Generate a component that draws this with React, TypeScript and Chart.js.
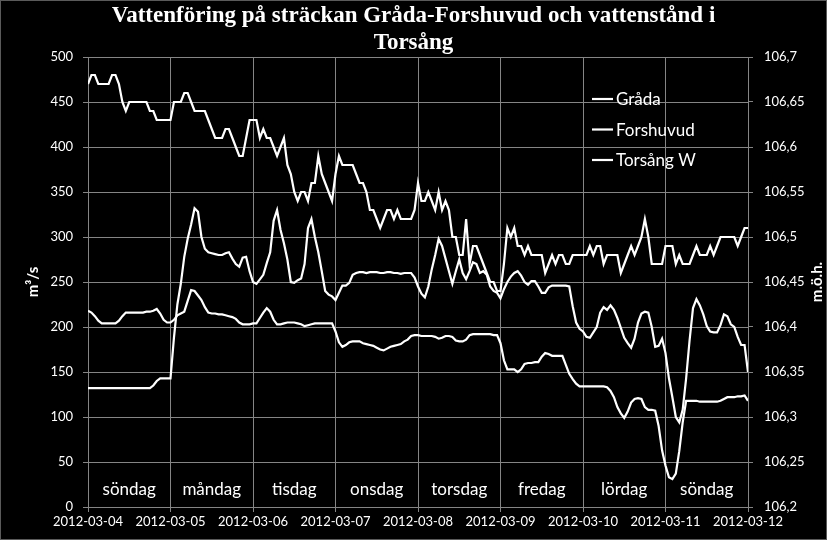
import { useEffect, useRef } from "react";
import { Chart, registerables } from "chart.js";

Chart.register(...registerables);

// ---------- data ----------
const TITLE = ["Vattenföring på sträckan Gråda-Forshuvud och vattenstånd i", "Torsång"];
const DATES = ["2012-03-04", "2012-03-05", "2012-03-06", "2012-03-07", "2012-03-08", "2012-03-09", "2012-03-10", "2012-03-11", "2012-03-12"];
const DAYS = ["söndag", "måndag", "tisdag", "onsdag", "torsdag", "fredag", "lördag", "söndag"];
const SERIES_NAMES = ["Gråda", "Forshuvud", "Torsång W"];
const LEFT_TITLE = "m³/s";
const RIGHT_TITLE = "m.ö.h.";
const HOURS_PER_DAY = 24;

// hourly flow, m3/s (2012-03-04 00:00 .. 2012-03-12 00:00)
const GRADA = [
  470, 480, 480, 470, 470, 470, 470, 480, 480, 470, 450, 440, 450, 450, 450, 450, 450, 450, 440, 440, 430, 430, 430, 430,
  430, 450, 450, 450, 460, 460, 450, 440, 440, 440, 440, 430, 420, 410, 410, 410, 420, 420, 410, 400, 390, 390, 410, 430,
  430, 430, 410, 420, 410, 410, 400, 390, 400, 410, 380, 370, 350, 340, 350, 350, 340, 360, 360, 390, 370, 360, 350, 340,
  370, 390, 380, 380, 380, 380, 370, 360, 360, 350, 330, 330, 320, 310, 320, 330, 330, 320, 330, 320, 320, 320, 320, 330,
  360, 340, 340, 350, 340, 330, 350, 330, 340, 330, 300, 300, 280, 280, 320, 270, 290, 290, 280, 270, 260, 250, 250, 240,
  240, 270, 310, 300, 310, 290, 290, 280, 290, 280, 280, 280, 280, 260, 270, 280, 270, 280, 280, 270, 270, 280, 280, 280,
  280, 280, 290, 280, 290, 290, 270, 280, 280, 280, 280, 260, 270, 280, 290, 280, 290, 300, 320, 300, 270, 270, 270, 270,
  290, 290, 290, 270, 280, 270, 270, 270, 280, 290, 280, 280, 280, 290, 280, 290, 300, 300, 300, 300, 300, 290, 300, 310,
  310,
];

const FORSHUVUD = [
  132, 132, 132, 132, 132, 132, 132, 132, 132, 132, 132, 132, 132, 132, 132, 132, 132, 132, 132, 135, 140, 143, 143, 143,
  143, 188, 225, 248, 278, 298, 314, 332, 328, 300, 287, 283, 282, 281, 280, 280, 282, 283, 276, 270, 267, 277, 278, 262,
  250, 248, 253, 258, 271, 283, 318, 330, 308, 293, 275, 250, 249, 252, 254, 270, 310, 320, 300, 283, 262, 240, 236, 234,
  230, 238, 246, 246, 249, 258, 260, 261, 261, 260, 261, 261, 261, 260, 260, 261, 261, 260, 260, 259, 260, 260, 260, 255,
  245, 237, 233, 245, 264, 280, 298, 290, 276, 262, 248, 262, 275, 260, 253, 262, 272, 270, 260, 262, 258, 245, 240, 238,
  232, 242, 250, 256, 260, 262, 257, 250, 247, 251, 251, 245, 238, 238, 244, 246, 246, 246, 246, 246, 245, 223, 205, 198,
  195, 189, 188, 194, 200, 216, 222, 219, 224, 219, 210, 199, 188, 182, 177, 187, 205, 215, 217, 216, 200, 178, 179, 187,
  171, 143, 122, 100, 94, 108, 143, 185, 221, 231, 224, 214, 201, 195, 194, 194, 202, 214, 212, 203, 200, 189, 180, 180,
  150,
];

// hourly water level, m.ö.h.
const TORSANG_W = [
  106.418, 106.416, 106.412, 106.407, 106.404, 106.404, 106.404, 106.404, 106.404, 106.407, 106.412, 106.416, 106.416, 106.416, 106.416, 106.416, 106.416, 106.417, 106.417, 106.418, 106.420, 106.415, 106.408, 106.405,
  106.405, 106.408, 106.413, 106.415, 106.417, 106.429, 106.441, 106.440, 106.435, 106.430, 106.422, 106.416, 106.415, 106.415, 106.414, 106.414, 106.413, 106.412, 106.411, 106.409, 106.405, 106.403, 106.403, 106.403,
  106.404, 106.404, 106.410, 106.416, 106.421, 106.417, 106.408, 106.403, 106.403, 106.404, 106.405, 106.405, 106.405, 106.404, 106.403, 106.401, 106.402, 106.403, 106.404, 106.404, 106.404, 106.404, 106.404, 106.404,
  106.395, 106.383, 106.378, 106.380, 106.383, 106.384, 106.384, 106.384, 106.382, 106.381, 106.380, 106.379, 106.377, 106.375, 106.374, 106.376, 106.378, 106.379, 106.380, 106.381, 106.384, 106.386, 106.390, 106.391,
  106.391, 106.390, 106.390, 106.390, 106.390, 106.389, 106.387, 106.388, 106.390, 106.390, 106.389, 106.385, 106.384, 106.384, 106.386, 106.391, 106.392, 106.392, 106.392, 106.392, 106.392, 106.392, 106.391, 106.391,
  106.382, 106.363, 106.353, 106.353, 106.353, 106.350, 106.353, 106.359, 106.360, 106.360, 106.361, 106.361, 106.367, 106.371, 106.370, 106.368, 106.368, 106.368, 106.368, 106.358, 106.348, 106.342, 106.337, 106.334,
  106.334, 106.334, 106.334, 106.334, 106.334, 106.334, 106.334, 106.333, 106.329, 106.322, 106.311, 106.304, 106.299, 106.306, 106.316, 106.320, 106.321, 106.320, 106.311, 106.308, 106.308, 106.307, 106.290, 106.263,
  106.246, 106.233, 106.231, 106.237, 106.262, 106.294, 106.318, 106.318, 106.318, 106.318, 106.317, 106.317, 106.317, 106.317, 106.317, 106.317, 106.318, 106.320, 106.322, 106.322, 106.322, 106.323, 106.323, 106.324,
  106.318,
];

// ---------- styles ----------
const GRID = "#858585";
const WHITE = "#ffffff";
const SANS = "Lato, 'Open Sans', sans-serif";
const SERIF = "'Liberation Serif', 'DejaVu Serif', serif";

const toPoints = (arr: number[]) => arr.map((y, i) => ({ x: i, y }));

const fmtComma = (v: number) => String(Number(v.toFixed(2))).replace(".", ",");

const decorPlugin = {
  id: "decor",
  beforeDraw(chart: any) {
    const { ctx, width, height } = chart;
    ctx.save();
    ctx.fillStyle = "#000";
    ctx.fillRect(0, 0, width, height);
    ctx.restore();
  },
  afterDraw(chart: any) {
    const { ctx, chartArea, scales } = chart;
    const xs = scales.x;
    ctx.save();
    // day names inside the plot
    ctx.fillStyle = WHITE;
    ctx.font = `17px ${SANS}`;
    ctx.textAlign = "center";
    ctx.textBaseline = "middle";
    DAYS.forEach((d, i) => {
      ctx.fillText(d, xs.getPixelForValue(i * HOURS_PER_DAY + HOURS_PER_DAY / 2), 490);
    });
    // legend
    ctx.textAlign = "left";
    chart.data.datasets.forEach((ds: any, i: number) => {
      const y = 99 + i * 30.5;
      ctx.strokeStyle = WHITE;
      ctx.lineWidth = 2.2;
      ctx.beginPath();
      ctx.moveTo(592, y);
      ctx.lineTo(613, y);
      ctx.stroke();
      ctx.fillText(ds.label, 616, y + 1);
    });
    // right axis title (reads bottom to top)
    ctx.font = `bold 15px ${SANS}`;
    ctx.textAlign = "center";
    ctx.translate(817, (chartArea.top + chartArea.bottom) / 2);
    ctx.rotate(-Math.PI / 2);
    ctx.fillText(RIGHT_TITLE, 0, 0);
    ctx.restore();
    // outer frame
    ctx.save();
    ctx.strokeStyle = "#5a5a5a";
    ctx.lineWidth = 1;
    ctx.strokeRect(0.5, 0.5, chart.width - 1, chart.height - 1);
    ctx.restore();
  },
};

export default function App() {
  const ref = useRef<HTMLCanvasElement | null>(null);

  useEffect(() => {
    if (!ref.current) return;
    const chart = new Chart(ref.current, {
      type: "line",
      data: {
        datasets: [
          { label: SERIES_NAMES[0], data: toPoints(GRADA), yAxisID: "y" },
          { label: SERIES_NAMES[1], data: toPoints(FORSHUVUD), yAxisID: "y" },
          { label: SERIES_NAMES[2], data: toPoints(TORSANG_W), yAxisID: "y1" },
        ].map((d) => ({
          ...d,
          borderColor: WHITE,
          backgroundColor: WHITE,
          borderWidth: 2.2,
          pointRadius: 0,
          tension: 0,
          fill: false,
        })),
      },
      options: {
        animation: false,
        responsive: false,
        devicePixelRatio: 1,
        layout: { padding: { left: 0, right: 0, top: 0, bottom: 0 } },
        plugins: {
          legend: { display: false },
          tooltip: { enabled: false },
          title: {
            display: true,
            text: TITLE,
            color: WHITE,
            font: { family: SERIF, size: 23, weight: "bold", lineHeight: 27 / 23 },
            padding: { top: 3, bottom: 0 },
          },
        },
        scales: {
          x: {
            type: "linear",
            position: "bottom",
            min: 0,
            max: (DATES.length - 1) * HOURS_PER_DAY,
            afterFit: (s: any) => {
              s.height = 33;
            },
            ticks: {
              stepSize: HOURS_PER_DAY,
              autoSkip: false,
              maxRotation: 0,
              color: WHITE,
              padding: 2,
              font: { family: SANS, size: 13 },
              callback: (v: any) => DATES[Math.round(v / HOURS_PER_DAY)] ?? "",
            },
            grid: { color: GRID, tickLength: 5, drawTicks: true },
            border: { color: GRID },
          },
          y: {
            position: "left",
            min: 0,
            max: 500,
            afterFit: (s: any) => {
              s.width = 88;
            },
            ticks: {
              stepSize: 50,
              color: WHITE,
              padding: 10,
              font: { family: SANS, size: 13 },
            },
            grid: { color: GRID, tickLength: 5 },
            border: { color: GRID },
            title: {
              display: true,
              text: LEFT_TITLE,
              color: WHITE,
              font: { family: SANS, size: 15, weight: "bold" },
              padding: { top: 24, bottom: 0 },
            },
          },
          y1: {
            position: "right",
            min: 106.2,
            max: 106.7,
            afterFit: (s: any) => {
              s.width = 79;
            },
            ticks: {
              stepSize: 0.05,
              color: WHITE,
              padding: 11,
              font: { family: SANS, size: 13 },
              callback: (v: any) => fmtComma(Number(v)),
            },
            grid: { color: GRID, tickLength: 5, drawOnChartArea: false },
            border: { color: GRID },
          },
        },
      },
      plugins: [decorPlugin],
    } as any);
    return () => chart.destroy();
  }, []);

  return (
    <div style={{ position: "fixed", left: 0, top: 0, width: 827, height: 540, background: "#000" }}>
      <canvas ref={ref} width={827} height={540} style={{ display: "block" }} />
    </div>
  );
}
